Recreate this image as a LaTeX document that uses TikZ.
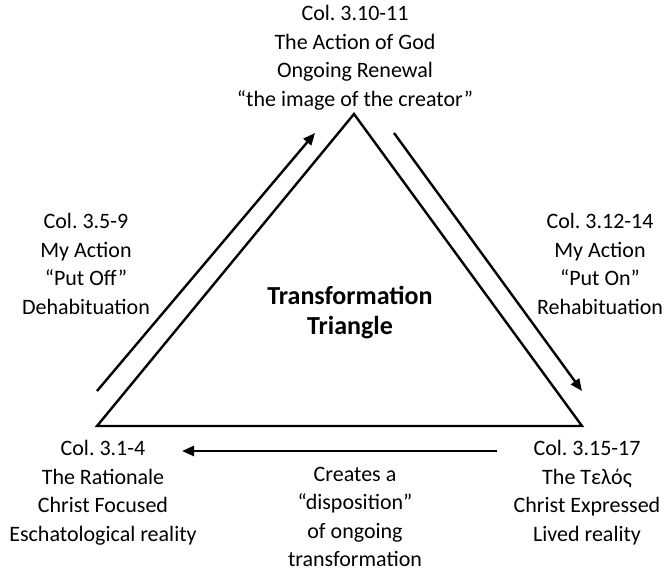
\documentclass[tikz,border=0pt]{standalone}
\usepackage{fontspec}
\setmainfont{Carlito}
\usetikzlibrary{arrows.meta}
\newcommand{\ls}{\strut}
\frenchspacing
\tikzset{
  lbl/.style={align=center, inner sep=0pt, font=\frenchspacing\fontsize{22}{28.5}\selectfont},
  ttl/.style={align=center, inner sep=0pt, font=\fontsize{26}{30}\selectfont\bfseries},
  edge/.style={line width=2.4pt},
  flow/.style={line width=2.4pt, -{Triangle[length=12pt,width=10pt]}}
}
\begin{document}
\begin{tikzpicture}[x=1pt,y=-1pt]
\useasboundingbox (0,0) rectangle (668,571);
% triangle vertices
\coordinate (A) at (354,114);
\coordinate (L) at (97,426);
\coordinate (R) at (582,426);
\draw[edge] (L) -- (A) -- (R) -- cycle;
% arrow ends
\coordinate (la1) at (97,391);
\coordinate (la2) at (315,133);
\coordinate (ra1) at (394,133);
\coordinate (ra2) at (582,391);
\coordinate (ba1) at (497,451);
\coordinate (ba2) at (182,451);
\draw[flow] (la1) -- (la2);
\draw[flow] (ra1) -- (ra2);
\draw[flow] (ba1) -- (ba2);
% labels
\node[lbl] (top) at (355,58) {\ls Col. 3.10-11\\\ls The Action of God\\\ls Ongoing Renewal\\\ls “the image of the creator”};
\node[lbl] (left) at (86,266) {\ls Col. 3.5-9\\\ls My Action\\\ls “Put Off”\\\ls Dehabituation};
\node[lbl] (right) at (600,266) {\ls Col. 3.12-14\\\ls My Action\\\ls “Put On”\\\ls Rehabituation};
\node[ttl] (title) at (350,313) {\strut Transformation\\\strut Triangle};
\node[lbl] (bl) at (103,493) {\ls Col. 3.1-4\\\ls The Rationale\\\ls Christ Focused\\\ls Eschatological reality};
\node[lbl] (br) at (587,493) {\ls Col. 3.15-17\\\ls The Τελός\\\ls Christ Expressed\\\ls Lived reality};
\node[lbl] (bc) at (355,514) {\ls Creates a\\\ls “disposition”\\\ls of ongoing\\transformation};
\end{tikzpicture}
\end{document}
